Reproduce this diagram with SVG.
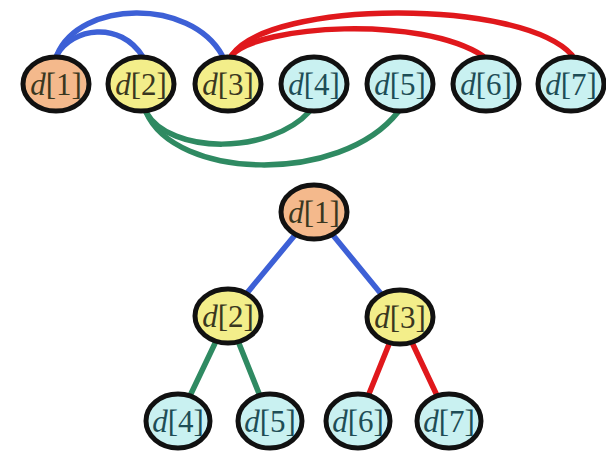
<svg xmlns="http://www.w3.org/2000/svg" width="606" height="451" viewBox="0 0 606 451">
  <style>
    .node { stroke: #111; stroke-width: 5; }
    .root { fill: #f4b98c; }
    .mid { fill: #f3ee8a; }
    .leaf { fill: #c9f1f1; }
    .lbl { font-family: "Liberation Serif", "Times New Roman", serif; font-size: 31px; text-anchor: middle; }
    .warm { fill: #3a3720; }
    .cool { fill: #1e4d56; }
    .edge { fill: none; stroke-width: 5.5; stroke-linecap: round; }
    .blue { stroke: #3d60d6; }
    .red { stroke: #e0181c; }
    .green { stroke: #2f8a62; }
  </style>

  <rect width="606" height="451" fill="#ffffff"/>

  <!-- connectors: array links above/below, tree links -->
  <g id="connectors">
    <path class="edge blue" d="M57 55 C 80 0, 190 -2, 222 55"/>
    <path class="edge blue" d="M57 55 C 72 28, 120 20, 143 57"/>
    <path class="edge red" d="M232 55 C 270 0, 520 -2, 572 55"/>
    <path class="edge red" d="M232 55 C 260 25, 420 15, 483 56"/>
    <path class="edge green" d="M146 112 C 170 155, 270 155, 310 111"/>
    <path class="edge green" d="M146 112 C 175 180, 340 185, 398 112"/>

    <line class="edge blue" x1="314" y1="212" x2="228" y2="316"/>
    <line class="edge blue" x1="314" y1="212" x2="400" y2="317"/>
    <line class="edge green" x1="228" y1="316" x2="178" y2="421"/>
    <line class="edge green" x1="228" y1="316" x2="270" y2="421"/>
    <line class="edge red" x1="400" y1="317" x2="358" y2="421"/>
    <line class="edge red" x1="400" y1="317" x2="449" y2="421"/>
  </g>

  <!-- array row -->
  <g id="a1"><ellipse class="node root" cx="56" cy="84" rx="33" ry="27"/><text class="lbl warm" x="56" y="95"><tspan font-style="italic">d</tspan>[1]</text></g>
  <g id="a2"><ellipse class="node mid" cx="141" cy="84" rx="33" ry="27"/><text class="lbl warm" x="141" y="95"><tspan font-style="italic">d</tspan>[2]</text></g>
  <g id="a3"><ellipse class="node mid" cx="228" cy="84" rx="33" ry="27"/><text class="lbl warm" x="228" y="95"><tspan font-style="italic">d</tspan>[3]</text></g>
  <g id="a4"><ellipse class="node leaf" cx="314" cy="84" rx="33" ry="27"/><text class="lbl cool" x="314" y="95"><tspan font-style="italic">d</tspan>[4]</text></g>
  <g id="a5"><ellipse class="node leaf" cx="400" cy="84" rx="33" ry="27"/><text class="lbl cool" x="400" y="95"><tspan font-style="italic">d</tspan>[5]</text></g>
  <g id="a6"><ellipse class="node leaf" cx="486" cy="84" rx="33" ry="27"/><text class="lbl cool" x="486" y="95"><tspan font-style="italic">d</tspan>[6]</text></g>
  <g id="a7"><ellipse class="node leaf" cx="571" cy="84" rx="33" ry="27"/><text class="lbl cool" x="571" y="95"><tspan font-style="italic">d</tspan>[7]</text></g>

  <!-- heap tree -->
  <g id="t1"><ellipse class="node root" cx="314" cy="212" rx="33" ry="27"/><text class="lbl warm" x="314" y="223"><tspan font-style="italic">d</tspan>[1]</text></g>
  <g id="t2"><ellipse class="node mid" cx="228" cy="316" rx="33" ry="27"/><text class="lbl warm" x="228" y="327"><tspan font-style="italic">d</tspan>[2]</text></g>
  <g id="t3"><ellipse class="node mid" cx="400" cy="317" rx="33" ry="27"/><text class="lbl warm" x="400" y="328"><tspan font-style="italic">d</tspan>[3]</text></g>
  <g id="t4"><ellipse class="node leaf" cx="178" cy="421" rx="32" ry="27"/><text class="lbl cool" x="178" y="432"><tspan font-style="italic">d</tspan>[4]</text></g>
  <g id="t5"><ellipse class="node leaf" cx="270" cy="421" rx="32" ry="27"/><text class="lbl cool" x="270" y="432"><tspan font-style="italic">d</tspan>[5]</text></g>
  <g id="t6"><ellipse class="node leaf" cx="358" cy="421" rx="32" ry="27"/><text class="lbl cool" x="358" y="432"><tspan font-style="italic">d</tspan>[6]</text></g>
  <g id="t7"><ellipse class="node leaf" cx="449" cy="421" rx="32" ry="27"/><text class="lbl cool" x="449" y="432"><tspan font-style="italic">d</tspan>[7]</text></g>
</svg>
